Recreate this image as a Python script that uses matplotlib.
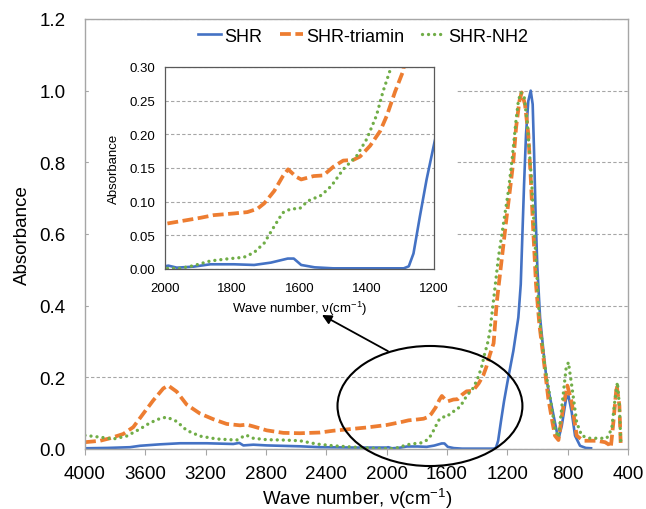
import matplotlib
matplotlib.use("Agg")
import matplotlib.pyplot as plt
from matplotlib.patches import Ellipse, Rectangle
from matplotlib.ticker import FormatStrFormatter, MultipleLocator

plt.rcParams['font.family'] = ['Liberation Sans', 'DejaVu Sans']
plt.rcParams['mathtext.fontset'] = 'custom'
plt.rcParams['mathtext.rm'] = 'Liberation Sans'
plt.rcParams['mathtext.it'] = 'Liberation Sans:italic'

# ---------------- data ----------------
series_names = ["SHR", "SHR-triamin", "SHR-NH2"]

shr_wn = [4000, 3850, 3702, 3635, 3503, 3370, 3193, 3017, 2977, 2950, 2884, 2795,
          2575, 2442, 2200, 2000, 1990, 1965, 1915, 1865, 1795, 1735, 1685, 1635,
          1617, 1595, 1555, 1500, 1400, 1290, 1275, 1261, 1242, 1222, 1200, 1160,
          1127, 1111, 1100, 1089, 1076, 1061, 1045, 1032, 1023, 1012, 1001, 983,
          961, 939, 906, 873, 861, 839, 811, 795, 773, 751, 718, 680, 645]
shr_abs = [0.002, 0.003, 0.005, 0.009, 0.013, 0.016, 0.016, 0.014, 0.017, 0.010, 0.012, 0.010,
           0.0075, 0.005, 0.004, 0.004, 0.005, 0.002, 0.0035, 0.007, 0.007, 0.006, 0.0095, 0.0155,
           0.0155, 0.006, 0.0025, 0.001, 0.001, 0.001, 0.004, 0.023, 0.078, 0.133, 0.185, 0.274,
           0.367, 0.46, 0.60, 0.739, 0.879, 0.971, 1.0, 0.962, 0.832, 0.646, 0.507, 0.367,
           0.274, 0.19, 0.12, 0.05, 0.028, 0.065, 0.139, 0.149, 0.102, 0.037, 0.009, 0.003, 0.002]

tri_wn = [4000, 3900, 3834, 3746, 3680, 3613, 3547, 3481, 3448, 3392, 3326, 3238,
          3149, 3061, 2972, 2928, 2884, 2795, 2685, 2575, 2442, 2354, 2133, 2000,
          1895, 1855, 1795, 1755, 1725, 1705, 1675, 1650, 1634, 1610, 1595, 1558,
          1529, 1499, 1470, 1440, 1420, 1390, 1360, 1340, 1316, 1291, 1270, 1237,
          1204, 1178, 1160, 1142, 1120, 1105, 1083, 1061, 1045, 1027, 1010, 988,
          961, 928, 899, 884, 861, 828, 802, 773, 740, 696, 607, 552,
          525, 514, 497, 475, 457, 448]
tri_abs = [0.019, 0.023, 0.030, 0.042, 0.061, 0.099, 0.136, 0.169, 0.177, 0.160, 0.124, 0.099,
           0.083, 0.070, 0.066, 0.068, 0.063, 0.052, 0.045, 0.044, 0.046, 0.051, 0.060, 0.067,
           0.076, 0.080, 0.0825, 0.0845, 0.0895, 0.0975, 0.116, 0.1375, 0.148, 0.137, 0.133, 0.138,
           0.139, 0.152, 0.161, 0.162, 0.167, 0.183, 0.205, 0.228, 0.263, 0.295, 0.41, 0.53,
           0.65, 0.739, 0.804, 0.897, 0.971, 0.995, 0.962, 0.879, 0.758, 0.60, 0.46, 0.349,
           0.256, 0.14, 0.07, 0.037, 0.025, 0.121, 0.177, 0.13, 0.037, 0.023, 0.023, 0.019,
           0.012, 0.004, 0.074, 0.178, 0.121, 0.009]

nh2_wn = [4000, 3900, 3812, 3724, 3635, 3569, 3503, 3458, 3392, 3326, 3238, 3127,
          2994, 2933, 2884, 2795, 2685, 2575, 2465, 2354, 2133, 2000, 1955, 1915,
          1865, 1815, 1765, 1735, 1705, 1675, 1650, 1625, 1600, 1575, 1535, 1505,
          1470, 1430, 1400, 1371, 1352, 1332, 1315, 1293, 1259, 1226, 1193, 1167,
          1145, 1127, 1111, 1089, 1067, 1038, 1016, 988, 950, 906, 884, 861,
          833, 811, 795, 773, 740, 707, 652, 541, 508, 486, 470, 457, 448]
nh2_abs = [0.038, 0.033, 0.028, 0.036, 0.056, 0.073, 0.085, 0.089, 0.077, 0.052, 0.036, 0.028,
           0.025, 0.039, 0.030, 0.026, 0.025, 0.023, 0.014, 0.009, 0.003, 0.001, 0.001, 0.005,
           0.012, 0.015, 0.0175, 0.0245, 0.0385, 0.0635, 0.0835, 0.0895, 0.0895, 0.101, 0.1095, 0.1235,
           0.148, 0.168, 0.193, 0.228, 0.263, 0.293, 0.33, 0.41, 0.535, 0.628, 0.72, 0.814,
           0.907, 0.971, 0.995, 0.985, 0.907, 0.739, 0.572, 0.368, 0.228, 0.117, 0.056, 0.033,
           0.139, 0.223, 0.242, 0.177, 0.074, 0.037, 0.030, 0.030, 0.056, 0.139, 0.186, 0.121, 0.019]

main_xticks = [4000, 3600, 3200, 2800, 2400, 2000, 1600, 1200, 800, 400]
inset_xticks = [2000, 1800, 1600, 1400, 1200]

x_label = 'Wave number, ν(cm$^{-1}$)'
y_label = 'Absorbance'

# annotation geometry (data units of main axes)
ellipse_center = (1713, 0.12)
ellipse_size = (1226, 0.335)
arrow_tip = (2429, 0.374)
arrow_tail = (1991, 0.273)

# ---------------- style ----------------
c_blue = '#4472C4'
c_orange = '#ED7D31'
c_green = '#70AD47'
grid_c = '#A6A6A6'

def styles():
    return [
        dict(color=c_blue, lw=1.9, ls='-'),
        dict(color=c_orange, lw=2.7, ls=(0, (2.9, 1.2)), dash_capstyle='butt'),
        dict(color=c_green, lw=2.4, ls=(0, (0.01, 1.8)), dash_capstyle='round'),
    ]

data = [(shr_wn, shr_abs), (tri_wn, tri_abs), (nh2_wn, nh2_abs)]

fig = plt.figure(figsize=(6.46, 5.10), dpi=100)
W, H = 646, 510
ax = fig.add_axes([85 / W, 1 - 450 / H, (628 - 85) / W, (450 - 20) / H])

for (x, y), name, st in zip(data, series_names, styles()):
    ax.plot(x, y, label=name, zorder=2, **st)

ax.set_xlim(4000, 400)
ax.set_ylim(0, 1.2)
ax.set_xticks(main_xticks)
ax.yaxis.set_major_locator(MultipleLocator(0.2))
ax.yaxis.set_major_formatter(FormatStrFormatter('%.1f'))
ax.set_axisbelow(True)
ax.grid(axis='y', color=grid_c, lw=0.8, ls=(0, (3, 2)))
for s in ax.spines.values():
    s.set_color('#A6A6A6')
    s.set_linewidth(1.0)
ax.tick_params(axis='y', length=0, pad=14, labelsize=13.5)
ax.tick_params(axis='x', length=4, color='#A6A6A6', pad=7.5, labelsize=13.5)
fig.text(357 / W, 1 - 505 / H, x_label, fontsize=13.5, ha='center', va='baseline')
fig.text(22 / W, 1 - 235 / H, y_label, fontsize=13.5, ha='center', va='center',
         rotation=90)

leg = ax.legend(loc='center', bbox_to_anchor=(0.512, 0.96), ncol=3, frameon=False,
                fontsize=13, handlelength=1.3, handletextpad=0.15, columnspacing=1.0)

# white panel hiding the main gridlines behind the inset
ax.add_patch(Rectangle((89 / W, 1 - 330 / H), (456 - 89) / W, (330 - 44) / H,
                       transform=fig.transFigure, facecolor='white', edgecolor='none',
                       zorder=1))

# ellipse and arrow
ax.add_patch(Ellipse(ellipse_center, ellipse_size[0], ellipse_size[1], fill=False,
                     edgecolor='black', lw=1.5, clip_on=False, zorder=3))
ax.annotate('', xy=arrow_tip, xytext=arrow_tail,
            arrowprops=dict(arrowstyle='-|>', color='black', lw=1.3, mutation_scale=14,
                            shrinkA=0, shrinkB=0), zorder=3)

# ---------------- inset ----------------
axi = fig.add_axes([165 / W, 1 - 270 / H, (434 - 165) / W, (270 - 68) / H])
for (x, y), st in zip(data, styles()):
    axi.plot(x, y, **st)
axi.set_xlim(2000, 1200)
axi.set_ylim(0, 0.30)
axi.set_xticks(inset_xticks)
axi.yaxis.set_major_locator(MultipleLocator(0.05))
axi.yaxis.set_major_formatter(FormatStrFormatter('%.2f'))
axi.set_axisbelow(True)
axi.grid(axis='y', color=grid_c, lw=0.8, ls=(0, (3, 2)))
for s in axi.spines.values():
    s.set_color('#595959')
    s.set_linewidth(0.9)
axi.tick_params(length=0, labelsize=9.5)
axi.tick_params(axis='x', pad=9)
axi.tick_params(axis='y', pad=7)
axi.set_xlabel(x_label, fontsize=9.5, labelpad=4)
axi.set_ylabel(y_label, fontsize=9.5, labelpad=7)

fig.savefig('out.png', dpi=100)
